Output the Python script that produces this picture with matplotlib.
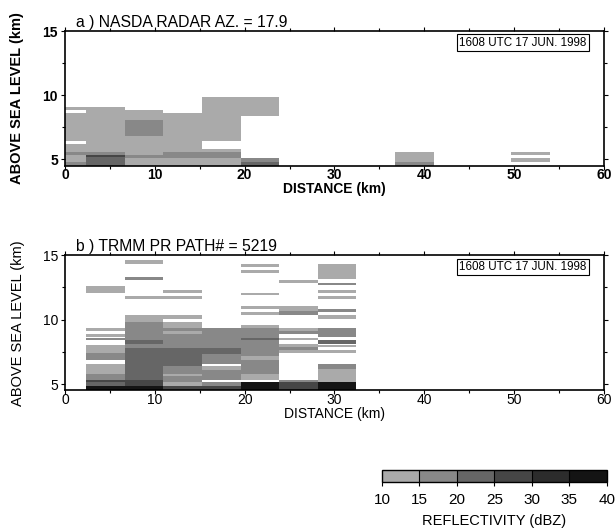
import matplotlib
matplotlib.use("Agg")
import matplotlib.pyplot as plt
from matplotlib.colors import ListedColormap, BoundaryNorm
from matplotlib.ticker import MultipleLocator

plt.rcParams['font.family'] = ['Liberation Sans', 'DejaVu Sans']

# reflectivity classes (dBZ) and grey shades
levels = [10, 15, 20, 25, 30, 35, 40]
greys = ['#aaaaaa', '#888888', '#666666', '#464646', '#2c2c2c', '#141414']
L, M, D1, D2, D3, B = 12.5, 17.5, 22.5, 27.5, 32.5, 37.5

col_width = 4.3  # km

# a) NASDA radar: column centres (km) and segments (bottom km, top km, dBZ)
nasda_x = [0.19, 4.49, 8.79, 13.09, 17.39, 21.69, 38.89, 51.79]
nasda_cols = [
    [(8.84, 9.05, L), (6.40, 8.63, L), (5.59, 6.17, L), (5.33, 5.59, M),
     (4.81, 5.33, L), (4.5, 4.81, M)],
    [(5.59, 9.05, L), (5.33, 5.59, M), (5.18, 5.33, D2), (4.5, 5.18, D1)],
    [(8.06, 8.84, L), (6.81, 8.06, M), (5.33, 6.81, L), (5.10, 5.33, M),
     (4.5, 5.10, L)],
    [(5.59, 8.63, L), (5.10, 5.59, M), (4.5, 5.10, L)],
    [(6.40, 9.88, L), (5.59, 5.80, L), (5.10, 5.59, M), (4.5, 5.10, L)],
    [(8.37, 9.88, L), (4.81, 5.10, M), (4.5, 4.81, D1)],
    [(4.79, 5.57, L), (4.5, 4.79, M)],
    [(5.33, 5.57, L), (4.81, 5.10, L)],
]

# b) TRMM PR
trmm_x = [4.49, 8.79, 13.09, 17.39, 21.69, 25.99, 30.29]
trmm_cols = [
    [(12.10, 12.61, L), (9.09, 9.35, L), (8.65, 8.85, L), (8.39, 8.60, M),
     (7.41, 8.06, L), (6.84, 7.41, M), (5.81, 6.59, L), (5.35, 5.81, M),
     (5.14, 5.35, D2), (4.83, 5.14, D1), (4.5, 4.83, B)],
    [(14.33, 14.64, L), (13.09, 13.34, M), (11.64, 11.85, L), (9.85, 10.38, L),
     (8.39, 9.85, M), (8.08, 8.39, D1), (7.80, 8.08, M), (5.35, 7.80, D1),
     (4.83, 5.35, D2), (4.5, 4.83, B)],
    [(12.11, 12.31, L), (11.64, 11.85, L), (10.09, 10.38, L), (9.37, 9.84, L),
     (9.09, 9.37, M), (8.85, 9.09, L), (7.80, 8.85, M), (6.38, 7.80, D1),
     (5.81, 6.38, M), (5.60, 5.81, L), (5.14, 5.60, M), (4.83, 5.14, L),
     (4.5, 4.83, D2)],
    [(7.80, 9.37, M), (7.36, 7.80, D1), (6.59, 7.36, M), (6.12, 6.38, L),
     (5.35, 6.12, M), (4.83, 5.14, M), (4.5, 4.83, D2)],
    [(14.12, 14.33, L), (13.65, 13.86, L), (11.88, 12.11, L), (10.84, 11.08, L),
     (10.40, 10.61, L), (9.37, 9.61, L), (8.60, 9.37, M), (8.39, 8.60, D1),
     (7.15, 8.39, M), (6.84, 7.15, L), (5.81, 6.84, M), (5.35, 5.81, L),
     (4.5, 5.14, B)],
    [(12.88, 13.09, L), (10.65, 11.07, L), (10.40, 10.65, M), (9.09, 9.37, L),
     (8.85, 9.09, M), (8.39, 8.60, L), (7.88, 8.08, L), (7.62, 7.88, M),
     (7.41, 7.62, L), (5.14, 5.35, M), (4.5, 5.14, D2)],
    [(13.14, 14.33, L), (12.68, 12.88, M), (12.11, 12.31, L), (11.64, 11.85, L),
     (10.61, 10.84, M), (10.09, 10.40, L), (8.65, 9.37, M), (8.10, 8.39, D1),
     (7.85, 8.05, L), (7.41, 7.62, L), (6.15, 6.59, M), (5.14, 6.15, L),
     (4.5, 5.14, B)],
]

cmap = ListedColormap(greys)
norm = BoundaryNorm(levels, cmap.N)

fig = plt.figure(figsize=(6.16, 5.31), dpi=100)
ax_a = fig.add_axes([0.1055, 0.688, 0.875, 0.2536])
ax_b = fig.add_axes([0.1055, 0.2646, 0.875, 0.2546])


def draw(ax, xs, cols, title, bold):
    for x, segs in zip(xs, cols):
        for z0, z1, dbz in segs:
            ax.bar(x, z1 - z0, bottom=z0, width=col_width, color=cmap(norm(dbz)),
                   edgecolor='none', linewidth=0)
    w = 'bold' if bold else 'normal'
    ax.set_xlim(0, 60)
    ax.set_ylim(4.5, 15)
    ax.xaxis.set_major_locator(MultipleLocator(10))
    ax.xaxis.set_minor_locator(MultipleLocator(5))
    ax.yaxis.set_major_locator(MultipleLocator(5))
    ax.yaxis.set_minor_locator(MultipleLocator(2.5))
    ax.tick_params(which='both', direction='out', top=True, right=True,
                   labelsize=10, width=0.8)
    ax.tick_params(which='major', length=3)
    ax.tick_params(which='minor', length=2.5)
    ax.tick_params(axis='x', which='major', pad=-1)
    ax.tick_params(axis='y', which='major', pad=2)
    for lab in ax.get_xticklabels() + ax.get_yticklabels():
        lab.set_fontweight(w)
    for s in ax.spines.values():
        s.set_linewidth(1.2)
    ax.set_xlabel('DISTANCE (km)', fontsize=10, fontweight=w, labelpad=0)
    ax.set_ylabel('ABOVE SEA LEVEL (km)', fontsize=10.5, fontweight=w, labelpad=13)
    ax.text(0.02, 1.03, title, transform=ax.transAxes, fontsize=11.3,
            va='baseline', ha='left')
    ax.text(0.968, 0.958, '1608 UTC 17 JUN. 1998', transform=ax.transAxes,
            fontsize=8.4, ha='right', va='top',
            bbox=dict(boxstyle='square,pad=0.2', fc='white', ec='black', lw=0.8))


draw(ax_a, nasda_x, nasda_cols, 'a ) NASDA RADAR AZ. = 17.9', True)
draw(ax_b, trmm_x, trmm_cols, 'b ) TRMM PR PATH# = 5219', False)

cax = fig.add_axes([0.620, 0.0923, 0.365, 0.0226])
sm = plt.cm.ScalarMappable(cmap=cmap, norm=norm)
cb = fig.colorbar(sm, cax=cax, orientation='horizontal', ticks=levels,
                  drawedges=True)
cb.outline.set_linewidth(1.0)
cb.dividers.set_linewidth(0.8)
cb.ax.tick_params(labelsize=11, length=3, pad=5)
cb.set_label('REFLECTIVITY (dBZ)', fontsize=10.5, labelpad=5)

fig.savefig('out.png', dpi=100)
